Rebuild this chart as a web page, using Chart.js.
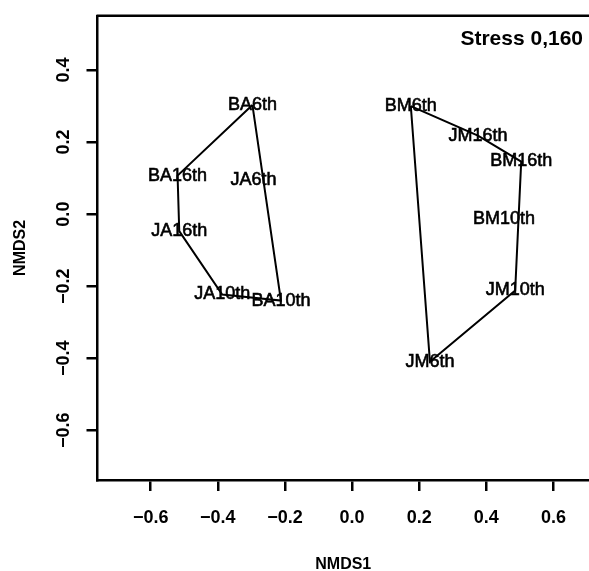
<!DOCTYPE html>
<html>
<head>
<meta charset="utf-8">
<script src="https://cdn.jsdelivr.net/npm/chart.js@4.4.1/dist/chart.umd.min.js"></script>
<style>
  html, body { margin: 0; padding: 0; background: #fff; }
  #wrap { width: 589px; height: 571px; }
</style>
</head>
<body>
<div id="wrap"><canvas id="nmds-chart" width="589" height="571"></canvas></div>
<script>
    // scores
    const amostras = ['BA6th', 'JA6th', 'BA16th', 'JA16th', 'JA10th', 'BA10th',
                      'BM6th', 'JM16th', 'BM16th', 'BM10th', 'JM10th', 'JM6th'];
    const nmds1 = [-0.297, -0.294, -0.520, -0.515, -0.387, -0.212,
                   0.175, 0.375, 0.504, 0.453, 0.486, 0.232];
    const nmds2 = [0.303, 0.094, 0.107, -0.047, -0.223, -0.240,
                   0.300, 0.218, 0.146, -0.014, -0.212, -0.410];

    // hull outlines (closed)
    const hullA = ['BA6th', 'BA16th', 'JA16th', 'JA10th', 'BA10th', 'BA6th'];
    const hullM = ['BM6th', 'JM16th', 'BM16th', 'JM10th', 'JM6th', 'BM6th'];

    const ticksX = [-0.6, -0.4, -0.2, 0.0, 0.2, 0.4, 0.6];
    const ticksY = [-0.6, -0.4, -0.2, 0.0, 0.2, 0.4];
    const textoStress = 'Stress 0,160';

    const fonte = '"Liberation Sans", Arial, Helvetica, sans-serif';

    function ponto(nome) {
        const i = amostras.indexOf(nome);
        return { x: nmds1[i], y: nmds2[i] };
    }

    function formatar(v) {
        const s = Math.abs(v).toFixed(1);
        return v < -1e-9 ? '\u2212' + s : s;
    }

    const rotulosPlugin = {
        id: 'rotulos',
        afterDatasetsDraw(chart) {
            const ctx = chart.ctx;
            const meta = chart.getDatasetMeta(2);
            ctx.save();
            ctx.fillStyle = '#000';
            ctx.strokeStyle = '#000';
            ctx.lineWidth = 0.6;
            ctx.font = '18px ' + fonte;
            ctx.textAlign = 'center';
            ctx.textBaseline = 'middle';
            meta.data.forEach((el, i) => {
                ctx.fillText(amostras[i], el.x, el.y);
                ctx.strokeText(amostras[i], el.x, el.y);
            });
            // stress value, top right
            ctx.font = 'bold 21px ' + fonte;
            ctx.textAlign = 'right';
            ctx.fillText(textoStress, 583, 39);
            ctx.restore();
        },
        afterDraw(chart) {
            // top side of the frame
            const { ctx, chartArea } = chart;
            ctx.save();
            ctx.strokeStyle = '#000';
            ctx.lineWidth = 2.5;
            ctx.beginPath();
            ctx.moveTo(chartArea.left - 1, chartArea.top);
            ctx.lineTo(chartArea.right + 2, chartArea.top);
            ctx.stroke();
            ctx.restore();
        }
    };

    function linhaHull(nomes) {
        return {
            data: nomes.map(ponto),
            showLine: true,
            borderColor: '#000',
            borderWidth: 2,
            pointRadius: 0,
            pointHoverRadius: 0,
            tension: 0,
            fill: false
        };
    }

    const ctx = document.getElementById('nmds-chart').getContext('2d');
    new Chart(ctx, {
        type: 'scatter',
        data: {
            datasets: [
                linhaHull(hullA),
                linhaHull(hullM),
                {
                    data: amostras.map(ponto),
                    pointRadius: 0,
                    pointHoverRadius: 0,
                    showLine: false
                }
            ]
        },
        options: {
            responsive: false,
            animation: false,
            devicePixelRatio: 1,
            layout: { padding: { top: 13, left: 0, right: 0, bottom: 0 } },
            plugins: {
                legend: { display: false },
                tooltip: { enabled: false }
            },
            scales: {
                x: {
                    type: 'linear',
                    min: -0.7586,
                    max: 0.706,
                    afterFit: (s) => { s.height = 91; },
                    afterBuildTicks: (s) => { s.ticks = ticksX.map(v => ({ value: v })); },
                    ticks: {
                        callback: formatar,
                        color: '#000',
                        padding: 16,
                        maxRotation: 0,
                        font: { family: fonte, size: 18, weight: 'bold' }
                    },
                    grid: {
                        drawOnChartArea: false,
                        drawTicks: true,
                        tickLength: 11,
                        color: '#000',
                        lineWidth: 2.5
                    },
                    border: { display: true, color: '#000', width: 2.5 },
                    title: {
                        display: true,
                        text: 'NMDS1',
                        color: '#000',
                        padding: { top: 0, bottom: -2 },
                        font: { family: fonte, size: 16, weight: 'bold', lineHeight: 1 }
                    }
                },
                y: {
                    type: 'linear',
                    min: -0.7380,
                    max: 0.5505,
                    afterFit: (s) => { s.width = 97.5; },
                    afterBuildTicks: (s) => { s.ticks = ticksY.map(v => ({ value: v })); },
                    ticks: {
                        callback: formatar,
                        color: '#000',
                        minRotation: 90,
                        maxRotation: 90,
                        crossAlign: 'center',
                        padding: 5,
                        font: { family: fonte, size: 18, weight: 'bold' }
                    },
                    grid: {
                        drawOnChartArea: false,
                        drawTicks: true,
                        tickLength: 11,
                        color: '#000',
                        lineWidth: 2.5
                    },
                    border: { display: true, color: '#000', width: 2.5 },
                    title: {
                        display: true,
                        text: 'NMDS2',
                        color: '#000',
                        padding: { top: 13, bottom: 0 },
                        font: { family: fonte, size: 16, weight: 'bold', lineHeight: 1 }
                    }
                }
            }
        },
        plugins: [rotulosPlugin]
    });
</script>
</body>
</html>
